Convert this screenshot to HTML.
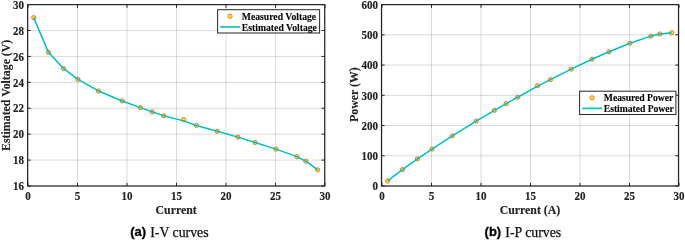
<!DOCTYPE html>
<html><head><meta charset="utf-8"><style>
html,body{margin:0;padding:0;background:#fff;}
body{width:685px;height:240px;overflow:hidden;}
svg{display:block;will-change:transform;}
.tk{font-family:"Liberation Serif",serif;font-weight:bold;font-size:11px;fill:#222;stroke:#222;stroke-width:0.15px;}
.al{font-family:"Liberation Serif",serif;font-weight:bold;font-size:11.85px;fill:#222;stroke:#222;stroke-width:0.12px;}
.lg{font-family:"Liberation Serif",serif;font-weight:bold;font-size:9.7px;fill:#000;stroke:#000;stroke-width:0.1px;}
.cap{font-family:"Liberation Serif",serif;font-size:13.8px;fill:#111;stroke:#111;stroke-width:0.25px;}
.capb{font-family:"Liberation Sans",sans-serif;font-weight:bold;font-size:13px;fill:#000;stroke:#000;stroke-width:0.3px;}
</style></head><body>
<svg width="685" height="240" viewBox="0 0 685 240">
<rect x="0" y="0" width="685" height="240" fill="#fff"/>
<line x1="28" y1="4.6" x2="28" y2="186.0" stroke="#262626" stroke-opacity="0.17" stroke-width="1"/>
<line x1="77.5" y1="4.6" x2="77.5" y2="186.0" stroke="#262626" stroke-opacity="0.17" stroke-width="1"/>
<line x1="127" y1="4.6" x2="127" y2="186.0" stroke="#262626" stroke-opacity="0.17" stroke-width="1"/>
<line x1="176.5" y1="4.6" x2="176.5" y2="186.0" stroke="#262626" stroke-opacity="0.17" stroke-width="1"/>
<line x1="226" y1="4.6" x2="226" y2="186.0" stroke="#262626" stroke-opacity="0.17" stroke-width="1"/>
<line x1="275.5" y1="4.6" x2="275.5" y2="186.0" stroke="#262626" stroke-opacity="0.17" stroke-width="1"/>
<line x1="325" y1="4.6" x2="325" y2="186.0" stroke="#262626" stroke-opacity="0.17" stroke-width="1"/>
<line x1="27.6" y1="186" x2="324.7" y2="186" stroke="#262626" stroke-opacity="0.17" stroke-width="1"/>
<line x1="27.6" y1="160.09" x2="324.7" y2="160.09" stroke="#262626" stroke-opacity="0.17" stroke-width="1"/>
<line x1="27.6" y1="134.17" x2="324.7" y2="134.17" stroke="#262626" stroke-opacity="0.17" stroke-width="1"/>
<line x1="27.6" y1="108.26" x2="324.7" y2="108.26" stroke="#262626" stroke-opacity="0.17" stroke-width="1"/>
<line x1="27.6" y1="82.34" x2="324.7" y2="82.34" stroke="#262626" stroke-opacity="0.17" stroke-width="1"/>
<line x1="27.6" y1="56.43" x2="324.7" y2="56.43" stroke="#262626" stroke-opacity="0.17" stroke-width="1"/>
<line x1="27.6" y1="30.51" x2="324.7" y2="30.51" stroke="#262626" stroke-opacity="0.17" stroke-width="1"/>
<line x1="27.6" y1="4.6" x2="324.7" y2="4.6" stroke="#262626" stroke-opacity="0.17" stroke-width="1"/>
<circle cx="33.7" cy="17.62" r="2.1" fill="#fff000" stroke="#ee6040" stroke-width="0.9"/>
<circle cx="48.45" cy="52.35" r="2.1" fill="#fff000" stroke="#ee6040" stroke-width="0.9"/>
<circle cx="63.45" cy="68.41" r="2.1" fill="#fff000" stroke="#ee6040" stroke-width="0.9"/>
<circle cx="77.95" cy="79.43" r="2.1" fill="#fff000" stroke="#ee6040" stroke-width="0.9"/>
<circle cx="98.45" cy="90.96" r="2.1" fill="#fff000" stroke="#ee6040" stroke-width="0.9"/>
<circle cx="122.2" cy="100.94" r="2.1" fill="#fff000" stroke="#ee6040" stroke-width="0.9"/>
<circle cx="140.45" cy="107.67" r="2.1" fill="#fff000" stroke="#ee6040" stroke-width="0.9"/>
<circle cx="152.1" cy="111.82" r="2.1" fill="#fff000" stroke="#ee6040" stroke-width="0.9"/>
<circle cx="163.7" cy="115.84" r="2.1" fill="#fff000" stroke="#ee6040" stroke-width="0.9"/>
<circle cx="183.6" cy="119.59" r="2.1" fill="#fff000" stroke="#ee6040" stroke-width="0.9"/>
<circle cx="196.45" cy="125.43" r="2.1" fill="#fff000" stroke="#ee6040" stroke-width="0.9"/>
<circle cx="217.2" cy="131.32" r="2.1" fill="#fff000" stroke="#ee6040" stroke-width="0.9"/>
<circle cx="237.95" cy="137.15" r="2.1" fill="#fff000" stroke="#ee6040" stroke-width="0.9"/>
<circle cx="255.1" cy="142.46" r="2.1" fill="#fff000" stroke="#ee6040" stroke-width="0.9"/>
<circle cx="275.95" cy="149.14" r="2.1" fill="#fff000" stroke="#ee6040" stroke-width="0.9"/>
<circle cx="296.9" cy="156.65" r="2.1" fill="#fff000" stroke="#ee6040" stroke-width="0.9"/>
<circle cx="305.8" cy="161.19" r="2.1" fill="#fff000" stroke="#ee6040" stroke-width="0.9"/>
<circle cx="317.7" cy="169.87" r="2.1" fill="#fff000" stroke="#ee6040" stroke-width="0.9"/>
<polyline points="33.7,17.62 48.45,52.35 63.45,68.41 77.95,79.43 98.45,90.96 122.2,100.94 140.45,107.67 152.1,111.82 163.7,115.84 183.6,120.89 196.45,125.43 217.2,131.32 237.95,137.15 255.1,142.46 275.95,149.14 296.9,156.65 305.8,161.19 317.7,169.87" fill="none" stroke="#00bfbf" stroke-width="1.5" stroke-linejoin="round"/>
<line x1="28" y1="186.0" x2="28" y2="182.8" stroke="#262626" stroke-width="1"/>
<line x1="28" y1="4.6" x2="28" y2="7.8" stroke="#262626" stroke-width="1"/>
<line x1="77.5" y1="186.0" x2="77.5" y2="182.8" stroke="#262626" stroke-width="1"/>
<line x1="77.5" y1="4.6" x2="77.5" y2="7.8" stroke="#262626" stroke-width="1"/>
<line x1="127" y1="186.0" x2="127" y2="182.8" stroke="#262626" stroke-width="1"/>
<line x1="127" y1="4.6" x2="127" y2="7.8" stroke="#262626" stroke-width="1"/>
<line x1="176.5" y1="186.0" x2="176.5" y2="182.8" stroke="#262626" stroke-width="1"/>
<line x1="176.5" y1="4.6" x2="176.5" y2="7.8" stroke="#262626" stroke-width="1"/>
<line x1="226" y1="186.0" x2="226" y2="182.8" stroke="#262626" stroke-width="1"/>
<line x1="226" y1="4.6" x2="226" y2="7.8" stroke="#262626" stroke-width="1"/>
<line x1="275.5" y1="186.0" x2="275.5" y2="182.8" stroke="#262626" stroke-width="1"/>
<line x1="275.5" y1="4.6" x2="275.5" y2="7.8" stroke="#262626" stroke-width="1"/>
<line x1="325" y1="186.0" x2="325" y2="182.8" stroke="#262626" stroke-width="1"/>
<line x1="325" y1="4.6" x2="325" y2="7.8" stroke="#262626" stroke-width="1"/>
<line x1="27.6" y1="186" x2="30.8" y2="186" stroke="#262626" stroke-width="1"/>
<line x1="324.7" y1="186" x2="321.5" y2="186" stroke="#262626" stroke-width="1"/>
<line x1="27.6" y1="160.09" x2="30.8" y2="160.09" stroke="#262626" stroke-width="1"/>
<line x1="324.7" y1="160.09" x2="321.5" y2="160.09" stroke="#262626" stroke-width="1"/>
<line x1="27.6" y1="134.17" x2="30.8" y2="134.17" stroke="#262626" stroke-width="1"/>
<line x1="324.7" y1="134.17" x2="321.5" y2="134.17" stroke="#262626" stroke-width="1"/>
<line x1="27.6" y1="108.26" x2="30.8" y2="108.26" stroke="#262626" stroke-width="1"/>
<line x1="324.7" y1="108.26" x2="321.5" y2="108.26" stroke="#262626" stroke-width="1"/>
<line x1="27.6" y1="82.34" x2="30.8" y2="82.34" stroke="#262626" stroke-width="1"/>
<line x1="324.7" y1="82.34" x2="321.5" y2="82.34" stroke="#262626" stroke-width="1"/>
<line x1="27.6" y1="56.43" x2="30.8" y2="56.43" stroke="#262626" stroke-width="1"/>
<line x1="324.7" y1="56.43" x2="321.5" y2="56.43" stroke="#262626" stroke-width="1"/>
<line x1="27.6" y1="30.51" x2="30.8" y2="30.51" stroke="#262626" stroke-width="1"/>
<line x1="324.7" y1="30.51" x2="321.5" y2="30.51" stroke="#262626" stroke-width="1"/>
<line x1="27.6" y1="4.6" x2="30.8" y2="4.6" stroke="#262626" stroke-width="1"/>
<line x1="324.7" y1="4.6" x2="321.5" y2="4.6" stroke="#262626" stroke-width="1"/>
<rect x="27.6" y="4.6" width="297.1" height="181.4" fill="none" stroke="#262626" stroke-width="1.2"/>
<text transform="translate(28,200) scale(1,1.1)" class="tk" text-anchor="middle">0</text>
<text transform="translate(77.5,200) scale(1,1.1)" class="tk" text-anchor="middle">5</text>
<text transform="translate(127,200) scale(1,1.1)" class="tk" text-anchor="middle">10</text>
<text transform="translate(176.5,200) scale(1,1.1)" class="tk" text-anchor="middle">15</text>
<text transform="translate(226,200) scale(1,1.1)" class="tk" text-anchor="middle">20</text>
<text transform="translate(275.5,200) scale(1,1.1)" class="tk" text-anchor="middle">25</text>
<text transform="translate(325,200) scale(1,1.1)" class="tk" text-anchor="middle">30</text>
<text transform="translate(24,190.2) scale(1,1.1)" class="tk" text-anchor="end">16</text>
<text transform="translate(24,164.29) scale(1,1.1)" class="tk" text-anchor="end">18</text>
<text transform="translate(24,138.37) scale(1,1.1)" class="tk" text-anchor="end">20</text>
<text transform="translate(24,112.46) scale(1,1.1)" class="tk" text-anchor="end">22</text>
<text transform="translate(24,86.54) scale(1,1.1)" class="tk" text-anchor="end">24</text>
<text transform="translate(24,60.63) scale(1,1.1)" class="tk" text-anchor="end">26</text>
<text transform="translate(24,34.71) scale(1,1.1)" class="tk" text-anchor="end">28</text>
<text transform="translate(24,8.8) scale(1,1.1)" class="tk" text-anchor="end">30</text>
<text x="176.15" y="213.7" class="al" text-anchor="middle">Current</text>
<text x="0" y="0" class="al" text-anchor="middle" transform="translate(9.5,95.3) rotate(-90)">Estimated Voltage (V)</text>
<line x1="382" y1="4.6" x2="382" y2="186.0" stroke="#262626" stroke-opacity="0.17" stroke-width="1"/>
<line x1="431.5" y1="4.6" x2="431.5" y2="186.0" stroke="#262626" stroke-opacity="0.17" stroke-width="1"/>
<line x1="481" y1="4.6" x2="481" y2="186.0" stroke="#262626" stroke-opacity="0.17" stroke-width="1"/>
<line x1="530.5" y1="4.6" x2="530.5" y2="186.0" stroke="#262626" stroke-opacity="0.17" stroke-width="1"/>
<line x1="580" y1="4.6" x2="580" y2="186.0" stroke="#262626" stroke-opacity="0.17" stroke-width="1"/>
<line x1="629.5" y1="4.6" x2="629.5" y2="186.0" stroke="#262626" stroke-opacity="0.17" stroke-width="1"/>
<line x1="679" y1="4.6" x2="679" y2="186.0" stroke="#262626" stroke-opacity="0.17" stroke-width="1"/>
<line x1="381.5" y1="186" x2="678.5" y2="186" stroke="#262626" stroke-opacity="0.17" stroke-width="1"/>
<line x1="381.5" y1="155.77" x2="678.5" y2="155.77" stroke="#262626" stroke-opacity="0.17" stroke-width="1"/>
<line x1="381.5" y1="125.53" x2="678.5" y2="125.53" stroke="#262626" stroke-opacity="0.17" stroke-width="1"/>
<line x1="381.5" y1="95.3" x2="678.5" y2="95.3" stroke="#262626" stroke-opacity="0.17" stroke-width="1"/>
<line x1="381.5" y1="65.07" x2="678.5" y2="65.07" stroke="#262626" stroke-opacity="0.17" stroke-width="1"/>
<line x1="381.5" y1="34.83" x2="678.5" y2="34.83" stroke="#262626" stroke-opacity="0.17" stroke-width="1"/>
<line x1="381.5" y1="4.6" x2="678.5" y2="4.6" stroke="#262626" stroke-opacity="0.17" stroke-width="1"/>
<circle cx="387.7" cy="180.95" r="2.1" fill="#fff000" stroke="#ee6040" stroke-width="0.9"/>
<circle cx="402.45" cy="169.56" r="2.1" fill="#fff000" stroke="#ee6040" stroke-width="0.9"/>
<circle cx="417.45" cy="158.85" r="2.1" fill="#fff000" stroke="#ee6040" stroke-width="0.9"/>
<circle cx="431.95" cy="149.05" r="2.1" fill="#fff000" stroke="#ee6040" stroke-width="0.9"/>
<circle cx="452.45" cy="135.8" r="2.1" fill="#fff000" stroke="#ee6040" stroke-width="0.9"/>
<circle cx="476.2" cy="121.09" r="2.1" fill="#fff000" stroke="#ee6040" stroke-width="0.9"/>
<circle cx="494.45" cy="110.29" r="2.1" fill="#fff000" stroke="#ee6040" stroke-width="0.9"/>
<circle cx="506.1" cy="103.67" r="2.1" fill="#fff000" stroke="#ee6040" stroke-width="0.9"/>
<circle cx="517.7" cy="97.25" r="2.1" fill="#fff000" stroke="#ee6040" stroke-width="0.9"/>
<circle cx="537.6" cy="85.62" r="2.1" fill="#fff000" stroke="#ee6040" stroke-width="0.9"/>
<circle cx="550.45" cy="79.64" r="2.1" fill="#fff000" stroke="#ee6040" stroke-width="0.9"/>
<circle cx="571.2" cy="69.17" r="2.1" fill="#fff000" stroke="#ee6040" stroke-width="0.9"/>
<circle cx="591.95" cy="59.24" r="2.1" fill="#fff000" stroke="#ee6040" stroke-width="0.9"/>
<circle cx="609.1" cy="51.73" r="2.1" fill="#fff000" stroke="#ee6040" stroke-width="0.9"/>
<circle cx="629.95" cy="43.31" r="2.1" fill="#fff000" stroke="#ee6040" stroke-width="0.9"/>
<circle cx="650.9" cy="36.1" r="2.1" fill="#fff000" stroke="#ee6040" stroke-width="0.9"/>
<circle cx="659.8" cy="34.01" r="2.1" fill="#fff000" stroke="#ee6040" stroke-width="0.9"/>
<circle cx="671.7" cy="32.78" r="2.1" fill="#fff000" stroke="#ee6040" stroke-width="0.9"/>
<polyline points="387.7,180.95 402.45,169.56 417.45,158.85 431.95,149.05 452.45,135.8 476.2,121.09 494.45,110.29 506.1,103.67 517.7,97.25 537.6,86.09 550.45,79.64 571.2,69.17 591.95,59.24 609.1,51.73 629.95,43.31 650.9,36.1 659.8,34.01 671.7,32.78" fill="none" stroke="#00bfbf" stroke-width="1.5" stroke-linejoin="round"/>
<line x1="382" y1="186.0" x2="382" y2="182.8" stroke="#262626" stroke-width="1"/>
<line x1="382" y1="4.6" x2="382" y2="7.8" stroke="#262626" stroke-width="1"/>
<line x1="431.5" y1="186.0" x2="431.5" y2="182.8" stroke="#262626" stroke-width="1"/>
<line x1="431.5" y1="4.6" x2="431.5" y2="7.8" stroke="#262626" stroke-width="1"/>
<line x1="481" y1="186.0" x2="481" y2="182.8" stroke="#262626" stroke-width="1"/>
<line x1="481" y1="4.6" x2="481" y2="7.8" stroke="#262626" stroke-width="1"/>
<line x1="530.5" y1="186.0" x2="530.5" y2="182.8" stroke="#262626" stroke-width="1"/>
<line x1="530.5" y1="4.6" x2="530.5" y2="7.8" stroke="#262626" stroke-width="1"/>
<line x1="580" y1="186.0" x2="580" y2="182.8" stroke="#262626" stroke-width="1"/>
<line x1="580" y1="4.6" x2="580" y2="7.8" stroke="#262626" stroke-width="1"/>
<line x1="629.5" y1="186.0" x2="629.5" y2="182.8" stroke="#262626" stroke-width="1"/>
<line x1="629.5" y1="4.6" x2="629.5" y2="7.8" stroke="#262626" stroke-width="1"/>
<line x1="679" y1="186.0" x2="679" y2="182.8" stroke="#262626" stroke-width="1"/>
<line x1="679" y1="4.6" x2="679" y2="7.8" stroke="#262626" stroke-width="1"/>
<line x1="381.5" y1="186" x2="384.7" y2="186" stroke="#262626" stroke-width="1"/>
<line x1="678.5" y1="186" x2="675.3" y2="186" stroke="#262626" stroke-width="1"/>
<line x1="381.5" y1="155.77" x2="384.7" y2="155.77" stroke="#262626" stroke-width="1"/>
<line x1="678.5" y1="155.77" x2="675.3" y2="155.77" stroke="#262626" stroke-width="1"/>
<line x1="381.5" y1="125.53" x2="384.7" y2="125.53" stroke="#262626" stroke-width="1"/>
<line x1="678.5" y1="125.53" x2="675.3" y2="125.53" stroke="#262626" stroke-width="1"/>
<line x1="381.5" y1="95.3" x2="384.7" y2="95.3" stroke="#262626" stroke-width="1"/>
<line x1="678.5" y1="95.3" x2="675.3" y2="95.3" stroke="#262626" stroke-width="1"/>
<line x1="381.5" y1="65.07" x2="384.7" y2="65.07" stroke="#262626" stroke-width="1"/>
<line x1="678.5" y1="65.07" x2="675.3" y2="65.07" stroke="#262626" stroke-width="1"/>
<line x1="381.5" y1="34.83" x2="384.7" y2="34.83" stroke="#262626" stroke-width="1"/>
<line x1="678.5" y1="34.83" x2="675.3" y2="34.83" stroke="#262626" stroke-width="1"/>
<line x1="381.5" y1="4.6" x2="384.7" y2="4.6" stroke="#262626" stroke-width="1"/>
<line x1="678.5" y1="4.6" x2="675.3" y2="4.6" stroke="#262626" stroke-width="1"/>
<rect x="381.5" y="4.6" width="297" height="181.4" fill="none" stroke="#262626" stroke-width="1.2"/>
<text transform="translate(382,200) scale(1,1.1)" class="tk" text-anchor="middle">0</text>
<text transform="translate(431.5,200) scale(1,1.1)" class="tk" text-anchor="middle">5</text>
<text transform="translate(481,200) scale(1,1.1)" class="tk" text-anchor="middle">10</text>
<text transform="translate(530.5,200) scale(1,1.1)" class="tk" text-anchor="middle">15</text>
<text transform="translate(580,200) scale(1,1.1)" class="tk" text-anchor="middle">20</text>
<text transform="translate(629.5,200) scale(1,1.1)" class="tk" text-anchor="middle">25</text>
<text transform="translate(679,200) scale(1,1.1)" class="tk" text-anchor="middle">30</text>
<text transform="translate(377.9,190.2) scale(1,1.1)" class="tk" text-anchor="end">0</text>
<text transform="translate(377.9,159.97) scale(1,1.1)" class="tk" text-anchor="end">100</text>
<text transform="translate(377.9,129.73) scale(1,1.1)" class="tk" text-anchor="end">200</text>
<text transform="translate(377.9,99.5) scale(1,1.1)" class="tk" text-anchor="end">300</text>
<text transform="translate(377.9,69.27) scale(1,1.1)" class="tk" text-anchor="end">400</text>
<text transform="translate(377.9,39.03) scale(1,1.1)" class="tk" text-anchor="end">500</text>
<text transform="translate(377.9,8.8) scale(1,1.1)" class="tk" text-anchor="end">600</text>
<text x="530" y="213.5" class="al" text-anchor="middle">Current (A)</text>
<text x="0" y="0" class="al" text-anchor="middle" transform="translate(358.0,94.6) rotate(-90)">Power (W)</text>
<rect x="217.6" y="9.7" width="102" height="23.3" fill="#fff" stroke="#262626" stroke-width="1"/>
<circle cx="230.05" cy="16.3" r="2.1" fill="#fff000" stroke="#ee6040" stroke-width="0.9"/>
<line x1="220.2" y1="26.9" x2="240" y2="26.9" stroke="#00bfbf" stroke-width="1.6"/>
<text x="241.8" y="19.8" class="lg" letter-spacing="0">Measured Voltage</text>
<text x="241.8" y="30.65" class="lg" letter-spacing="0">Estimated Voltage</text>
<rect x="579.6" y="91.2" width="96.3" height="23.3" fill="#fff" stroke="#262626" stroke-width="1"/>
<circle cx="592.05" cy="97.8" r="2.1" fill="#fff000" stroke="#ee6040" stroke-width="0.9"/>
<line x1="582.2" y1="108.4" x2="602" y2="108.4" stroke="#00bfbf" stroke-width="1.6"/>
<text x="603.8" y="101.3" class="lg" letter-spacing="-0.05">Measured Power</text>
<text x="603.8" y="112.15" class="lg" letter-spacing="-0.05">Estimated Power</text>
<text x="130.2" y="236.9" class="cap"><tspan class="capb" dy="-1">(a)</tspan><tspan dx="0.7" dy="1"> I-V curves</tspan></text>
<text x="484.6" y="236.9" class="cap"><tspan class="capb" dy="-1">(b)</tspan><tspan dx="0.7" dy="1"> I-P curves</tspan></text>
</svg>
</body></html>
